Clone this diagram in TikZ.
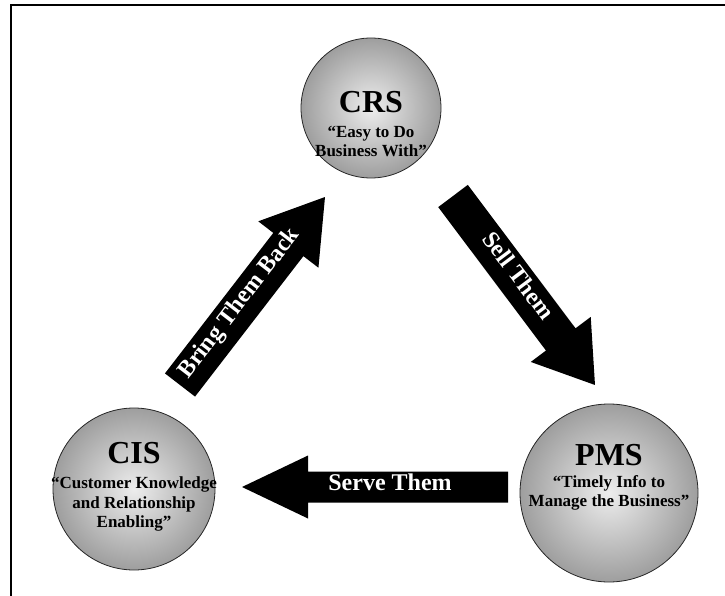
\documentclass[tikz,border=0pt]{standalone}
\usepackage{fontspec}
\setmainfont{Liberation Serif}
\usetikzlibrary{calc}

% block arrow from a named tail to a named tip:
% #1 tail, #2 tip, #3 half shaft width, #4 half head width, #5 head length
\newcommand\blockarrow[5]{%
  \path let \p1=($(#2)-(#1)$), \n1={atan2(\y1,\x1)}, \n2={veclen(\x1,\y1)} in
    \pgfextra{\xdef\barang{\n1}\xdef\barlen{\n2}};
  \fill[blockfill, shift={(#1)}, rotate=\barang]
    (0,-#3) -- ({\barlen-#5},-#3) -- ({\barlen-#5},-#4) -- (\barlen,0)
    -- ({\barlen-#5},#4) -- ({\barlen-#5},#3) -- (0,#3) -- cycle;
}

\begin{document}
\begin{tikzpicture}[x=1pt, y=-1pt,
  ball/.style={circle, draw=black!85, line width=0.8pt, shading=radial,
    inner color=gray!14, outer color=gray!76, inner sep=0pt, minimum size=#1},
  titletext/.style={font=\bfseries\fontsize{32}{32}\selectfont, anchor=base, inner sep=0pt},
  mottotext/.style={font=\bfseries\fontsize{17}{20}\selectfont, anchor=base, inner sep=0pt},
  arrowlabel/.style={font=\bfseries\fontsize{24}{24}\selectfont, text=white,
    inner sep=0pt, text height=0.66em, text depth=0pt, anchor=center},
  blockfill/.style={fill=black}
]
\useasboundingbox (0,0) rectangle (725,596);

% frame
\draw[line width=2pt] (725,5) -- (11,5) -- (11,596);

% the three systems
\node[ball=140pt] (crs) at (371,108) {};
\node[ball=162pt] (cis) at (134,489) {};
\node[ball=178pt] (pms) at (609,493) {};

\node[titletext] (crs-t) at (371,113) {CRS};
\node[mottotext] (crs-m1) at (371,138) {“Easy to Do};
\node[mottotext] (crs-m2) at (371,157) {Business With”};

\node[titletext] (cis-t) at (134,463) {CIS};
\node[mottotext] (cis-m1) at (134,488) {“Customer Knowledge};
\node[mottotext] (cis-m2) at (134,508) {and Relationship};
\node[mottotext] (cis-m3) at (134,527) {Enabling”};

\node[titletext] (pms-t) at (609,465) {PMS};
\node[mottotext] (pms-m1) at (609,487) {“Timely Info to};
\node[mottotext] (pms-m2) at (609,506) {Manage the Business”};

% arrow end points
\coordinate (bring-tail) at (180,385);
\coordinate (bring-tip)  at (325,197);
\coordinate (sell-tail)  at (453,196);
\coordinate (sell-tip)   at (595,385);
\coordinate (serve-tail) at (508,487);
\coordinate (serve-tip)  at (242,487);

\blockarrow{bring-tail}{bring-tip}{19}{38}{60}
\blockarrow{sell-tail}{sell-tip}{18.5}{37.5}{57}
\blockarrow{serve-tail}{serve-tip}{15.5}{31.5}{66}

\node[arrowlabel, rotate=52.4] (bring-l) at ($(bring-tail)!101pt!(bring-tip)$) {Bring Them Back};
\node[arrowlabel, rotate=-53.1] (sell-l) at ($(sell-tail)!103pt!(sell-tip)$) {Sell Them};
\node[arrowlabel] (serve-l) at ($(serve-tail)!118pt!(serve-tip)$) {Serve Them};
\end{tikzpicture}
\end{document}
